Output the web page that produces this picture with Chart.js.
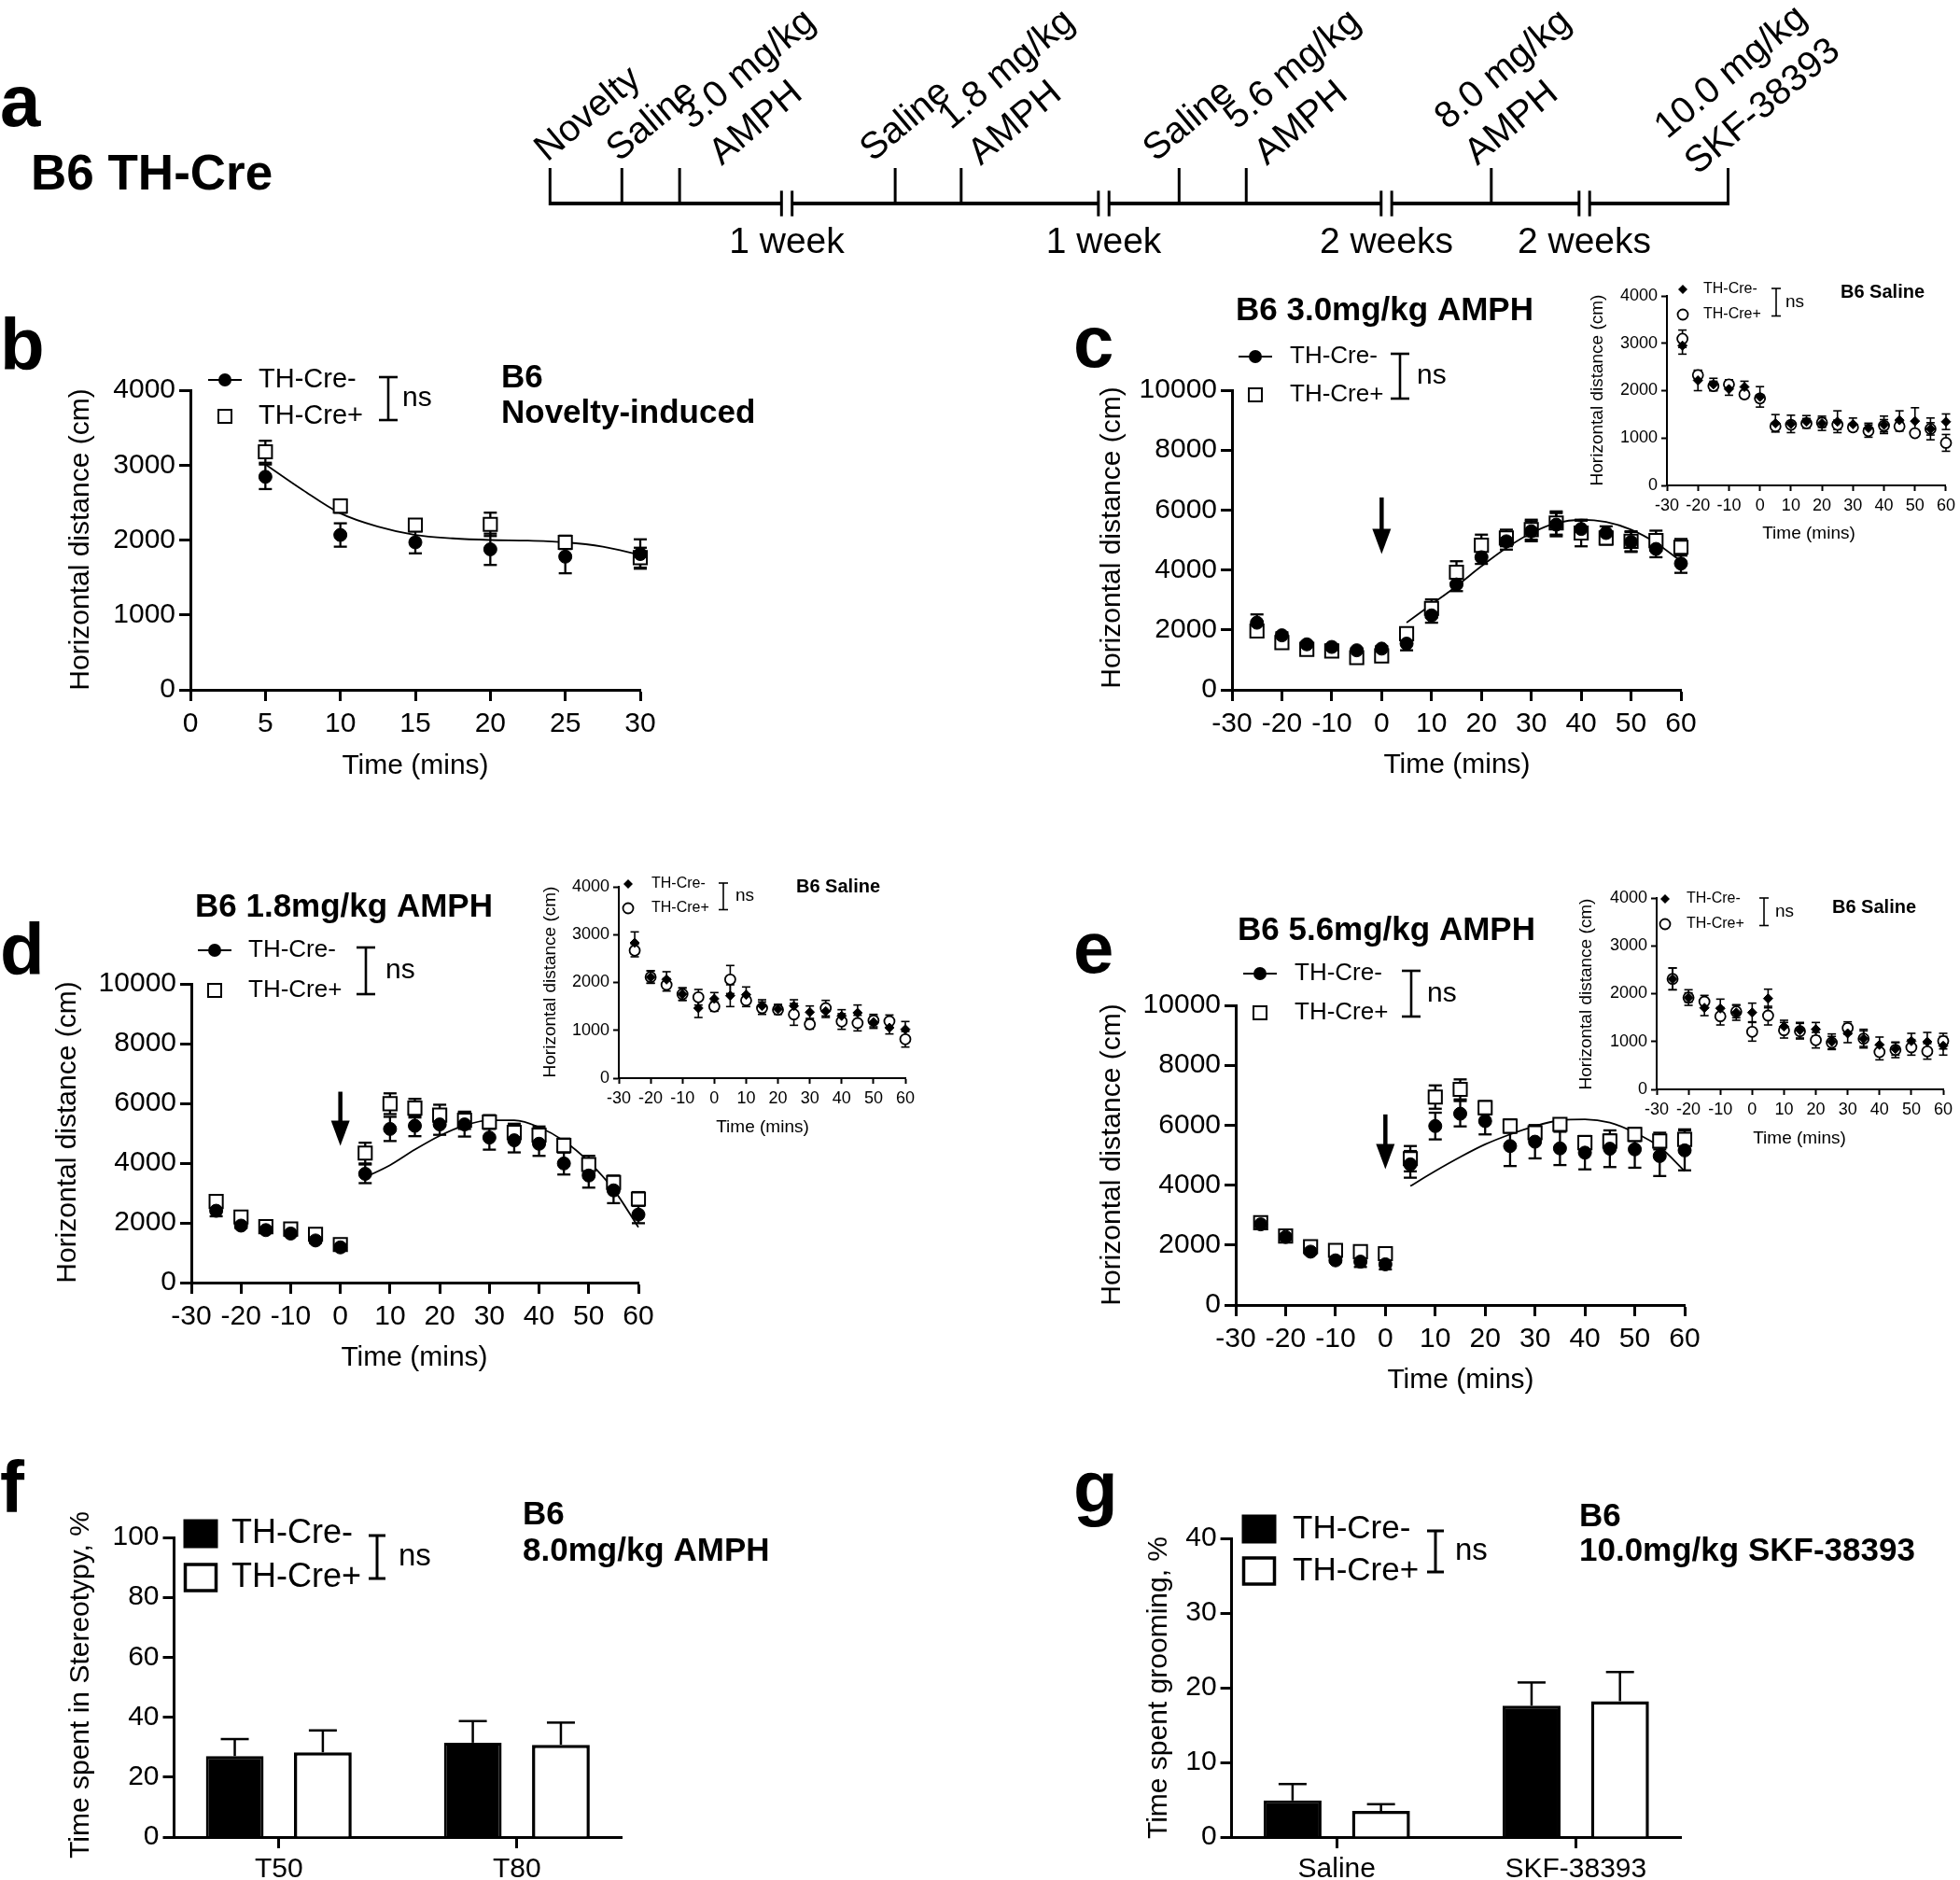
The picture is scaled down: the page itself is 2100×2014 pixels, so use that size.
<!DOCTYPE html>
<html>
<head>
<meta charset="utf-8">
<script src="https://cdn.jsdelivr.net/npm/chart.js@4.4.1/dist/chart.umd.min.js"></script>
<style>
  html, body { margin: 0; padding: 0; background: #fff; }
  body { position: relative; width: 2100px; height: 2014px; overflow: hidden; }
  canvas { position: absolute; }
</style>
</head>
<body>
<script>
const FONT = "'Liberation Sans', Arial, Helvetica, sans-serif";

// ---------- data ----------
const groups = ['TH-Cre-', 'TH-Cre+'];

// a: schedule (arbitrary timeline units, 0..100)
const eventPos = [0, 6.1, 11.0, 29.3, 34.9, 53.4, 59.1, 79.9, 100];
const eventLabels = [['Novelty'], ['Saline'], ['3.0 mg/kg', 'AMPH'], ['Saline'], ['1.8 mg/kg', 'AMPH'],
                     ['Saline'], ['5.6 mg/kg', 'AMPH'], ['8.0 mg/kg', 'AMPH'], ['10.0 mg/kg', 'SKF-38393']];
const breakPos = [20.1, 47.0, 71.0, 87.8];
const breakLabels = ['1 week', '1 week', '2 weeks', '2 weeks'];

// b: novelty
const timeNov = [5, 10, 15, 20, 25, 30];
const novNeg = [2844, 2067, 1969, 1876, 1778, 1813];
const novNegSem = [164, 156, 147, 209, 222, 196];
const novPos = [3178, 2453, 2200, 2209, 1969, 1764];
const novPosSem = [147, 89, 67, 156, 89, 133];
const novFitX = [5, 7.5, 10, 12.5, 15, 17.5, 20, 22.5, 25, 27.5, 30];
const novFitY = [3010, 2667, 2356, 2178, 2067, 2022, 2000, 1991, 1969, 1911, 1800];

// sessions with saline baseline then drug
const timeSess = [-25, -20, -15, -10, -5, 0, 5, 10, 15, 20, 25, 30, 35, 40, 45, 50, 55, 60];
const timeFit = [5, 10, 15, 20, 25, 30, 35, 40, 45, 50, 55, 60];

// c: 3.0 mg/kg
const c30Neg = [2240, 1819, 1519, 1431, 1320, 1375, 1541, 2484, 3516, 4425, 4957, 5290, 5512, 5368, 5234, 4935, 4702, 4214];
const c30NegSem = [277, 100, 80, 80, 60, 80, 222, 244, 222, 222, 277, 333, 388, 277, 222, 333, 277, 310];
const c30Pos = [1963, 1575, 1353, 1298, 1076, 1131, 1874, 2717, 3926, 4824, 5068, 5345, 5567, 5234, 5068, 4957, 4979, 4758];
const c30PosSem = [150, 100, 80, 80, 80, 80, 150, 300, 366, 355, 277, 333, 388, 444, 222, 333, 333, 277];
const c30Fit = [2240, 2850, 3460, 4125, 4735, 5234, 5567, 5678, 5600, 5345, 4902, 4292];
const c30Arrow = [6420, 4530];
// c inset saline
const c30SalNeg = [2951, 2216, 2131, 2033, 2079, 1869, 1311, 1298, 1344, 1311, 1344, 1292, 1213, 1279, 1377, 1357, 1193, 1344];
const c30SalNegSem = [180, 216, 130, 130, 120, 216, 184, 184, 130, 150, 230, 130, 100, 184, 197, 282, 230, 164];
const c30SalPos = [3095, 2328, 2098, 2131, 1921, 1836, 1246, 1279, 1311, 1325, 1279, 1226, 1147, 1259, 1246, 1102, 1193, 898];
const c30SalPosSem = [184, 100, 100, 100, 80, 80, 60, 60, 100, 100, 100, 80, 130, 130, 100, 60, 130, 177];

// d: 1.8 mg/kg
const d18Neg = [2404, 1907, 1757, 1642, 1410, 1179, 3641, 5144, 5248, 5294, 5294, 4855, 4763, 4647, 3988, 3584, 3087, 2277];
const d18NegSem = [185, 80, 80, 80, 80, 80, 312, 405, 347, 347, 405, 405, 405, 405, 370, 405, 428, 289];
const d18Pos = [2717, 2196, 1873, 1792, 1618, 1272, 4335, 5988, 5838, 5607, 5433, 5375, 5029, 4936, 4589, 3954, 3352, 2798];
const d18PosSem = [100, 80, 80, 80, 80, 80, 347, 347, 312, 347, 289, 231, 289, 289, 231, 289, 231, 231];
const d18Fit = [3526, 3930, 4451, 4913, 5260, 5433, 5433, 5202, 4740, 4046, 3121, 1850];
const d18Arrow = [6390, 4580];
const d18SalNeg = [2829, 2114, 2062, 1756, 1463, 1659, 1724, 1743, 1509, 1444, 1509, 1379, 1398, 1301, 1366, 1171, 1054, 1021];
const d18SalNegSem = [228, 130, 163, 130, 195, 130, 228, 163, 130, 98, 130, 130, 130, 130, 163, 130, 130, 163];
const d18SalPos = [2667, 2114, 1951, 1756, 1691, 1496, 2062, 1626, 1463, 1431, 1333, 1125, 1463, 1184, 1151, 1203, 1190, 813];
const d18SalPosSem = [130, 130, 130, 130, 163, 98, 293, 130, 130, 98, 228, 98, 163, 163, 163, 130, 130, 163];

// e: 5.6 mg/kg
const e56Neg = [2691, 2268, 1779, 1490, 1446, 1357, 4693, 5971, 6383, 6138, 5304, 5449, 5226, 5082, 5215, 5193, 4971, 5160];
const e56NegSem = [80, 80, 80, 60, 178, 167, 445, 445, 423, 445, 667, 556, 556, 556, 612, 612, 667, 667];
const e56Pos = [2747, 2302, 1946, 1824, 1779, 1712, 4882, 6939, 7195, 6583, 5971, 5749, 6027, 5415, 5471, 5693, 5471, 5527];
const e56PosSem = [100, 80, 80, 80, 80, 80, 423, 389, 334, 222, 222, 167, 167, 222, 222, 222, 278, 334];
const e56Fit = [3970, 4470, 4937, 5360, 5693, 5971, 6160, 6194, 6083, 5749, 5271, 4470];
const e56Arrow = [6360, 4530];
const e56SalNeg = [2309, 1919, 1704, 1691, 1607, 1607, 1899, 1314, 1236, 1255, 995, 1171, 1060, 930, 846, 1008, 995, 911];
const e56SalNegSem = [228, 163, 163, 195, 163, 195, 195, 130, 163, 143, 163, 195, 195, 163, 130, 163, 195, 195];
const e56SalPos = [2309, 1919, 1834, 1528, 1626, 1203, 1541, 1236, 1216, 1028, 976, 1281, 1060, 780, 826, 878, 794, 1008];
const e56SalPosSem = [228, 98, 130, 182, 130, 195, 195, 163, 163, 163, 130, 130, 163, 163, 163, 163, 163, 163];

// f: stereotypy
const stereoCats = ['T50', 'T80'];
const stereoNeg = [27.0, 31.5];
const stereoNegSem = [5.7, 7.2];
const stereoPos = [28.3, 30.8];
const stereoPosSem = [7.3, 7.4];

// g: grooming
const groomCats = ['Saline', 'SKF-38393'];
const groomNeg = [4.9, 17.6];
const groomNegSem = [2.2, 3.1];
const groomPos = [3.5, 18.2];
const groomPosSem = [0.9, 3.9];

// ---------- layout (page pixels) ----------
const MAIN = { font: 30, tick: 12, lw: 3, padX: 7, padY: 4 };
const INSET = { font: 18, tick: 6, lw: 2, padX: 5, padY: 4 };

const LAY = {
  b: { box: {x: 0, y: 300, w: 1050, h: 560}, area: {l: 204, t: 418, r: 686, b: 739}, yw: 100, xh: 60,
       letter: ['b', 0, 396], title: [['B6', 537, 405], ['Novelty-induced', 537, 443]],
       leg: {mx: 241, y1: 407, y2: 446, tx: 277, bx: 416, nx: 431, size: 29},
       yTitle: [87, 578], xTitle: [445, 821] },
  c: { box: {x: 1100, y: 290, w: 1000, h: 560}, area: {l: 1320, t: 418, r: 1801, b: 739}, yw: 110, xh: 60,
       letter: ['c', 1150, 393], title: [['B6 3.0mg/kg AMPH', 1324, 333]],
       leg: {mx: 1345, y1: 382, y2: 423, tx: 1382, bx: 1500, nx: 1518, size: 26},
       yTitle: [1192, 576], xTitle: [1561, 820] },
  ci: { box: {x: 1640, y: 280, w: 460, h: 310}, area: {l: 1786, t: 317, r: 2088, b: 520}, yw: 60, xh: 40, inset: true,
       title: [['B6 Saline', 1972, 313]],
       leg: {mx: 1803, y1: 310, y2: 337, tx: 1825, bx: 1903, nx: 1913, size: 16},
       yTitle: [1712, 418], xTitle: [1938, 572] },
  d: { box: {x: 0, y: 920, w: 1050, h: 580}, area: {l: 205, t: 1054, r: 684, b: 1374}, yw: 110, xh: 60,
       letter: ['d', 0, 1044], title: [['B6 1.8mg/kg AMPH', 209, 972]],
       leg: {mx: 230, y1: 1018, y2: 1061, tx: 266, bx: 392, nx: 413, size: 26},
       yTitle: [73, 1213], xTitle: [444, 1455] },
  di: { box: {x: 520, y: 915, w: 480, h: 310}, area: {l: 663, t: 950, r: 970, b: 1155}, yw: 60, xh: 40, inset: true,
       title: [['B6 Saline', 853, 950]],
       leg: {mx: 673, y1: 947, y2: 973, tx: 698, bx: 775, nx: 788, size: 16},
       yTitle: [590, 1052], xTitle: [817, 1208] },
  e: { box: {x: 1100, y: 950, w: 1000, h: 560}, area: {l: 1324, t: 1077, r: 1805, b: 1398}, yw: 110, xh: 60,
       letter: ['e', 1150, 1042], title: [['B6 5.6mg/kg AMPH', 1326, 997]],
       leg: {mx: 1350, y1: 1043, y2: 1085, tx: 1387, bx: 1512, nx: 1529, size: 26},
       yTitle: [1192, 1237], xTitle: [1565, 1479] },
  ei: { box: {x: 1640, y: 930, w: 460, h: 310}, area: {l: 1775, t: 962, r: 2082, b: 1167}, yw: 60, xh: 40, inset: true,
       title: [['B6 Saline', 1963, 972]],
       leg: {mx: 1784, y1: 963, y2: 990, tx: 1807, bx: 1890, nx: 1902, size: 16},
       yTitle: [1700, 1065], xTitle: [1928, 1220] },
  f: { box: {x: 0, y: 1540, w: 1050, h: 474}, area: {l: 186.5, t: 1647, r: 666, b: 1968}, yw: 100, xh: 46,
       letter: ['f', 0, 1620], title: [['B6', 560, 1623], ['8.0mg/kg AMPH', 560, 1662]],
       leg: {mx: 215, y1: 1643, y2: 1690, tx: 248, bx: 404, nx: 427, size: 36},
       yTitle: [87, 1805], yLabel: 'Time spent in Stereotypy, %' },
  g: { box: {x: 1100, y: 1540, w: 1000, h: 474}, area: {l: 1319.6, t: 1648, r: 1801, b: 1968}, yw: 100, xh: 46,
       letter: ['g', 1150, 1620], title: [['B6', 1692, 1625], ['10.0mg/kg SKF-38393', 1692, 1662]],
       leg: {mx: 1349, y1: 1638, y2: 1683, tx: 1385, bx: 1538, nx: 1559, size: 35},
       yTitle: [1242, 1808], yLabel: 'Time spent grooming, %' }
};

// schedule label placement
const SCHED_BOX = {x: 0, y: 0, w: 2100, h: 290};
const SCHED_AREA = {l: 589.3, t: 180, r: 1851.5, b: 218};
const LABEL_DX = [-3, -3, 45, -24, 21, -25, 22, -15, -33];
const LABEL_DY = [-6, -6, -2, -6, -2, -6, -2, -2, 8];
const LABEL_SIZE = 40;
const LABEL_ANGLE = 40 * Math.PI / 180;
const LINE_STEP = 50, LINE_SHIFT = 0;
const BREAK_HALF = 0.45;

Chart.defaults.font.family = FONT;
Chart.defaults.color = '#000';

// ---------- helpers ----------
function place(box) {
  const c = document.createElement('canvas');
  c.width = box.w; c.height = box.h;
  c.style.left = box.x + 'px'; c.style.top = box.y + 'px';
  c.style.width = box.w + 'px'; c.style.height = box.h + 'px';
  document.body.appendChild(c);
  return c;
}
function padFor(L) {
  return { left: L.area.l - L.box.x - L.yw, top: L.area.t - L.box.y,
           right: L.box.x + L.box.w - L.area.r, bottom: L.box.y + L.box.h - L.area.b - L.xh };
}
function pts(xs, ys) { return xs.map((x, i) => ({x: x, y: ys[i]})); }
function T(ctx, s, x, y, size, o) {
  o = o || {};
  ctx.save();
  ctx.font = (o.bold ? 'bold ' : '') + size + 'px ' + FONT;
  ctx.fillStyle = '#000';
  ctx.textAlign = o.align || 'left';
  ctx.textBaseline = o.base || 'middle';
  ctx.translate(x, y);
  if (o.rot) ctx.rotate(o.rot);
  ctx.fillText(s, 0, 0);
  ctx.restore();
}
function seg(ctx, x1, y1, x2, y2, w) {
  ctx.lineWidth = w; ctx.beginPath(); ctx.moveTo(x1, y1); ctx.lineTo(x2, y2); ctx.stroke();
}
function axis(min, max, step, st, horizontal, size) {
  return {
    type: 'linear', min: min, max: max, offset: false,
    ticks: { stepSize: step, autoSkip: false, maxRotation: 0, minRotation: 0, includeBounds: false,
             padding: horizontal ? st.padX : st.padY, color: '#000', font: {family: FONT, size: st.font},
             callback: v => String(v) },
    grid: { display: true, drawOnChartArea: false, drawTicks: true, tickLength: st.tick, tickWidth: st.lw,
            color: '#000', offset: false },
    border: { display: true, width: st.lw, color: '#000' },
    afterFit: sc => { if (horizontal) sc.height = size; else sc.width = size; }
  };
}

function drawLegend(ctx, L, kind) {
  const g = L.leg;
  ctx.strokeStyle = '#000'; ctx.fillStyle = '#000';
  let top, bot, cap, lw, nsSize;
  if (kind === 'inset') {
    ctx.beginPath(); ctx.moveTo(g.mx, g.y1 - 5); ctx.lineTo(g.mx + 5, g.y1); ctx.lineTo(g.mx, g.y1 + 5); ctx.lineTo(g.mx - 5, g.y1); ctx.closePath(); ctx.fill();
    ctx.beginPath(); ctx.arc(g.mx, g.y2, 5.5, 0, Math.PI * 2); ctx.fillStyle = '#fff'; ctx.fill(); ctx.lineWidth = 1.8; ctx.stroke();
    top = g.y1 - 1; bot = g.y2 + 1.5; cap = 5; lw = 1.6; nsSize = 19;
  } else if (kind === 'bar') {
    ctx.fillRect(g.mx - 18.5, g.y1 - 15.5, 37, 31);
    ctx.lineWidth = 3.5; ctx.strokeRect(g.mx - 16.5, g.y2 - 14, 33, 28);
    top = g.y1 + 2; bot = g.y2 + 1; cap = 9; lw = 3; nsSize = 33;
  } else {
    seg(ctx, g.mx - 18, g.y1, g.mx + 18, g.y1, 2.2);
    ctx.beginPath(); ctx.arc(g.mx, g.y1, 7, 0, Math.PI * 2); ctx.fill();
    ctx.lineWidth = 2; ctx.fillStyle = '#fff';
    ctx.fillRect(g.mx - 7, g.y2 - 7, 14, 14); ctx.strokeRect(g.mx - 7, g.y2 - 7, 14, 14);
    top = g.y1 - 3; bot = g.y2 + 4; cap = 10; lw = 2.6; nsSize = 30;
  }
  T(ctx, groups[0], g.tx, g.y1, g.size);
  T(ctx, groups[1], g.tx, g.y2, g.size);
  ctx.strokeStyle = '#000';
  seg(ctx, g.bx, top, g.bx, bot, lw);
  seg(ctx, g.bx - cap, top, g.bx + cap, top, lw);
  seg(ctx, g.bx - cap, bot, g.bx + cap, bot, lw);
  T(ctx, 'ns', g.nx, (top + bot) / 2, nsSize);
}

function deco(L, kind, arrowVals) {
  return {
    id: 'deco',
    afterDraw(chart) {
      const ctx = chart.ctx;
      ctx.save();
      if (arrowVals) {
        const x = chart.scales.x.getPixelForValue(0);
        const y1 = chart.scales.y.getPixelForValue(arrowVals[0]);
        const y2 = chart.scales.y.getPixelForValue(arrowVals[1]);
        ctx.strokeStyle = '#000'; ctx.fillStyle = '#000';
        seg(ctx, x, y1, x, y2 - 24, 4.5);
        ctx.beginPath(); ctx.moveTo(x - 10, y2 - 27); ctx.lineTo(x + 10, y2 - 27); ctx.lineTo(x, y2); ctx.closePath(); ctx.fill();
      }
      ctx.translate(-L.box.x, -L.box.y);
      const inset = kind === 'inset';
      if (L.letter) T(ctx, L.letter[0], L.letter[1], L.letter[2], 78, {bold: true, base: 'alphabetic'});
      L.title.forEach(t => T(ctx, t[0], t[1], t[2], inset ? 20 : 35, {bold: true}));
      drawLegend(ctx, L, kind);
      const yLab = L.yLabel || 'Horizontal distance (cm)';
      T(ctx, yLab, L.yTitle[0], L.yTitle[1], inset ? 19 : 30, {align: 'center', rot: -Math.PI / 2});
      if (L.xTitle) T(ctx, 'Time (mins)', L.xTitle[0], L.xTitle[1], inset ? 19 : 30, {align: 'center'});
      ctx.restore();
    }
  };
}

const scatterErrors = {
  id: 'scatterErrors',
  beforeDatasetsDraw(chart) {
    const ctx = chart.ctx, ys = chart.scales.y;
    chart.data.datasets.forEach((ds, i) => {
      if (!ds.errs) return;
      const meta = chart.getDatasetMeta(i);
      ctx.save();
      ctx.strokeStyle = '#000';
      meta.data.forEach((el, j) => {
        const v = ds.data[j].y, e = ds.errs[j];
        const t = ys.getPixelForValue(v + e), b = ys.getPixelForValue(v - e);
        seg(ctx, el.x, t, el.x, b, ds.errW);
        seg(ctx, el.x - ds.capW, t, el.x + ds.capW, t, ds.errW);
        seg(ctx, el.x - ds.capW, b, el.x + ds.capW, b, ds.errW);
      });
      ctx.restore();
    });
  }
};

const barErrors = {
  id: 'barErrors',
  afterDatasetsDraw(chart) {
    const ctx = chart.ctx, ys = chart.scales.y;
    chart.data.datasets.forEach((ds, i) => {
      const meta = chart.getDatasetMeta(i);
      ctx.save();
      ctx.strokeStyle = '#000';
      meta.data.forEach((el, j) => {
        const t = ys.getPixelForValue(ds.data[j].y + ds.errs[j]);
        seg(ctx, el.x, el.y, el.x, t, 2.5);
        seg(ctx, el.x - 15, t, el.x + 15, t, 2.5);
      });
      ctx.restore();
    });
  }
};

function scatterPanel(L, x, neg, negSem, pos, posSem, opt) {
  const inset = !!L.inset;
  const st = inset ? INSET : MAIN;
  const datasets = [
    { label: groups[0], data: pts(x, neg), errs: negSem, errW: inset ? 1.6 : 2.3, capW: inset ? 4.5 : 7,
      pointStyle: inset ? 'rectRot' : 'circle', pointRadius: inset ? 5 : 7,
      pointBackgroundColor: '#000', pointBorderColor: '#000', pointBorderWidth: 1, clip: false },
    { label: groups[1], data: pts(x, pos), errs: posSem, errW: inset ? 1.6 : 2.3, capW: inset ? 4.5 : 7,
      pointStyle: inset ? 'circle' : 'rect', pointRadius: inset ? 5.5 : 10,
      pointBackgroundColor: '#fff', pointBorderColor: '#000', pointBorderWidth: inset ? 1.8 : 2, clip: false }
  ];
  if (opt.fitX) {
    datasets.push({ type: 'line', data: pts(opt.fitX, opt.fitY), borderColor: '#000', borderWidth: 1.8,
                    pointRadius: 0, cubicInterpolationMode: 'monotone', fill: false, clip: false });
  }
  new Chart(place(L.box), {
    type: 'scatter',
    data: { datasets: datasets },
    options: {
      responsive: false, animation: false, devicePixelRatio: 1, events: [],
      layout: { padding: padFor(L) },
      plugins: { legend: {display: false}, tooltip: {enabled: false} },
      scales: {
        x: axis(opt.xMin, opt.xMax, opt.xStep, st, true, L.xh),
        y: axis(0, opt.yMax, opt.yStep, st, false, L.yw)
      }
    },
    plugins: [scatterErrors, deco(L, inset ? 'inset' : 'main', opt.arrow)]
  });
}

function barPanel(L, cats, neg, negSem, pos, posSem, yMax, yStep) {
  const common = { categoryPercentage: 0.74, barPercentage: 0.655, borderColor: '#000' };
  const xAx = axis(-0.44, 1.44, 1, MAIN, true, L.xh);
  xAx.afterBuildTicks = sc => { sc.ticks = cats.map((c, i) => ({value: i})); };
  xAx.ticks.callback = (v, i) => cats[i];
  xAx.ticks.padding = 5;
  new Chart(place(L.box), {
    type: 'bar',
    data: { datasets: [
      Object.assign({ label: groups[0], data: neg.map((v, i) => ({x: i, y: v})), errs: negSem,
                      backgroundColor: '#000', borderWidth: 3 }, common),
      Object.assign({ label: groups[1], data: pos.map((v, i) => ({x: i, y: v})), errs: posSem,
                      backgroundColor: '#fff', borderWidth: 3.5 }, common)
    ]},
    options: {
      responsive: false, animation: false, devicePixelRatio: 1, events: [],
      layout: { padding: padFor(L) },
      plugins: { legend: {display: false}, tooltip: {enabled: false} },
      scales: { x: xAx, y: axis(0, yMax, yStep, MAIN, false, L.yw) }
    },
    plugins: [barErrors, deco(L, 'bar')]
  });
}

// ---------- a: schedule ----------
(function () {
  const base = [{x: eventPos[0], y: 0}];
  breakPos.forEach(b => {
    base.push({x: b - BREAK_HALF, y: 0}, {x: b, y: null}, {x: b + BREAK_HALF, y: 0});
  });
  base.push({x: eventPos[eventPos.length - 1], y: 0});
  const schedule = {
    id: 'schedule',
    afterDatasetsDraw(chart) {
      const ctx = chart.ctx, xs = chart.scales.x, ys = chart.scales.y;
      const y0 = ys.getPixelForValue(0), y1 = ys.getPixelForValue(1);
      ctx.save();
      ctx.strokeStyle = '#000';
      eventPos.forEach(p => { const px = xs.getPixelForValue(p); seg(ctx, px, y0 + 2, px, y1, 3); });
      breakPos.forEach((b, i) => {
        [-1, 1].forEach(s => {
          const px = xs.getPixelForValue(b + s * BREAK_HALF);
          seg(ctx, px, ys.getPixelForValue(-0.36), px, ys.getPixelForValue(0.36), 3);
        });
        T(ctx, breakLabels[i], xs.getPixelForValue(b), y0 + 42, 39, {align: 'center'});
      });
      ctx.font = LABEL_SIZE + 'px ' + FONT; ctx.fillStyle = '#000';
      ctx.textAlign = 'left'; ctx.textBaseline = 'alphabetic';
      eventLabels.forEach((lines, i) => {
        ctx.save();
        ctx.translate(xs.getPixelForValue(eventPos[i]) + LABEL_DX[i], y1 + LABEL_DY[i]);
        ctx.rotate(-LABEL_ANGLE);
        const n = lines.length;
        lines.forEach((s, j) => ctx.fillText(s, (n - 1 - j) * LINE_SHIFT, -(n - 1 - j) * LINE_STEP));
        ctx.restore();
      });
      T(ctx, 'a', 0, 135, 78, {bold: true, base: 'alphabetic'});
      T(ctx, 'B6 TH-Cre', 33, 188, 53, {bold: true});
      ctx.restore();
    }
  };
  new Chart(place(SCHED_BOX), {
    type: 'scatter',
    data: { datasets: [{ type: 'line', data: base, borderColor: '#000', borderWidth: 4, pointRadius: 0,
                         spanGaps: false, clip: false }] },
    options: {
      responsive: false, animation: false, devicePixelRatio: 1, events: [],
      layout: { padding: { left: SCHED_AREA.l, right: SCHED_BOX.w - SCHED_AREA.r, top: SCHED_AREA.t,
                           bottom: SCHED_BOX.h - SCHED_AREA.b } },
      plugins: { legend: {display: false}, tooltip: {enabled: false} },
      scales: { x: {type: 'linear', min: 0, max: 100, display: false},
                y: {type: 'linear', min: 0, max: 1, display: false} }
    },
    plugins: [schedule]
  });
})();

// ---------- b..g ----------
scatterPanel(LAY.b, timeNov, novNeg, novNegSem, novPos, novPosSem,
  {fitX: novFitX, fitY: novFitY, xMin: 0, xMax: 30, xStep: 5, yMax: 4000, yStep: 1000});
scatterPanel(LAY.c, timeSess, c30Neg, c30NegSem, c30Pos, c30PosSem,
  {fitX: timeFit, fitY: c30Fit, arrow: c30Arrow, xMin: -30, xMax: 60, xStep: 10, yMax: 10000, yStep: 2000});
scatterPanel(LAY.ci, timeSess, c30SalNeg, c30SalNegSem, c30SalPos, c30SalPosSem,
  {xMin: -30, xMax: 60, xStep: 10, yMax: 4000, yStep: 1000});
scatterPanel(LAY.d, timeSess, d18Neg, d18NegSem, d18Pos, d18PosSem,
  {fitX: timeFit, fitY: d18Fit, arrow: d18Arrow, xMin: -30, xMax: 60, xStep: 10, yMax: 10000, yStep: 2000});
scatterPanel(LAY.di, timeSess, d18SalNeg, d18SalNegSem, d18SalPos, d18SalPosSem,
  {xMin: -30, xMax: 60, xStep: 10, yMax: 4000, yStep: 1000});
scatterPanel(LAY.e, timeSess, e56Neg, e56NegSem, e56Pos, e56PosSem,
  {fitX: timeFit, fitY: e56Fit, arrow: e56Arrow, xMin: -30, xMax: 60, xStep: 10, yMax: 10000, yStep: 2000});
scatterPanel(LAY.ei, timeSess, e56SalNeg, e56SalNegSem, e56SalPos, e56SalPosSem,
  {xMin: -30, xMax: 60, xStep: 10, yMax: 4000, yStep: 1000});
barPanel(LAY.f, stereoCats, stereoNeg, stereoNegSem, stereoPos, stereoPosSem, 100, 20);
barPanel(LAY.g, groomCats, groomNeg, groomNegSem, groomPos, groomPosSem, 40, 10);
</script>
</body>
</html>
